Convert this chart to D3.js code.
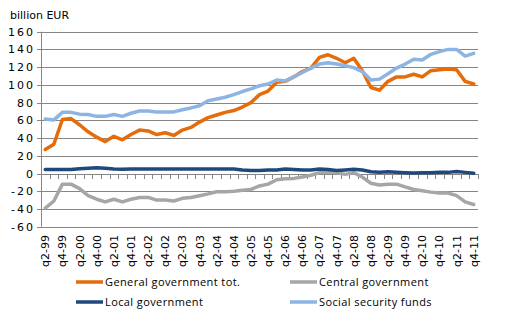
<!DOCTYPE html>
<html>
<head>
<meta charset="utf-8">
<script src="https://cdn.jsdelivr.net/npm/d3@7"></script>
<style>
  body { margin: 0; background: #fff; }
  svg { display: block; }
</style>
</head>
<body>
<svg id="chart" width="512" height="330"></svg>
<script>
// Quarterly categories (x axis)
const quarters = [
    'q2-99','q3-99','q4-99',
    'q1-00','q2-00','q3-00','q4-00',
    'q1-01','q2-01','q3-01','q4-01',
    'q1-02','q2-02','q3-02','q4-02',
    'q1-03','q2-03','q3-03','q4-03',
    'q1-04','q2-04','q3-04','q4-04',
    'q1-05','q2-05','q3-05','q4-05',
    'q1-06','q2-06','q3-06','q4-06',
    'q1-07','q2-07','q3-07','q4-07',
    'q1-08','q2-08','q3-08','q4-08',
    'q1-09','q2-09','q3-09','q4-09',
    'q1-10','q2-10','q3-10','q4-10',
    'q1-11','q2-11','q3-11','q4-11'
];

// Series values, billion EUR
const generalGov = [27,33,61,62,55,47,41,36,42,38,44,49,48,44,46,43,49,52,58,63,66,69,71,75,80,89,93,103,104,109,115,119,131,134,130,125,130,116,97,94,104,109,109,112,109,116,117,118,117,104,101];
const centralGov = [-39,-31,-12,-12,-17,-25,-29,-32,-29,-32,-29,-27,-27,-30,-30,-31,-28,-27,-25,-23,-20.5,-20.5,-20,-19,-18,-14,-12,-7,-6,-5.5,-4,-2,1,1.5,1,-1,1,-4,-11,-13,-12,-12,-15,-18,-19.5,-21,-22,-22,-25,-32,-35];
const localGov = [4.5,4.5,4.5,4.5,5.5,6,6.5,6,5,4.8,5,5,5,5,5,5,5,5,5,5,5,5,5,4,3.5,3.5,4,4,5,4.5,4,4,5,4.5,3.5,4,4.7,4,2,1.5,2,1.5,1,0.5,1,1,1.3,1.3,2.4,1.3,0.3];
const socialFunds = [61.5,60.5,69,69,67,66.5,64.5,64.5,66.5,64.5,68,70.5,70.5,69.5,69.5,69.5,72,74,76.5,82,84,86,89,92.5,95.5,99,101,105.5,104.5,109,114,119,123.5,125,123.5,121.5,119.5,115,105.5,106.5,112.5,119,123.5,129,128,134.5,137.5,140,140,132.5,135.5];

const seriesNames = ['General government tot.', 'Central government', 'Local government', 'Social security funds'];
const yTicks = [-60,-40,-20,0,20,40,60,80,100,120,140,160];

const series = [
    {name: seriesNames[0], values: generalGov, color: '#e46c0a'},
    {name: seriesNames[1], values: centralGov, color: '#a6a6a6'},
    {name: seriesNames[2], values: localGov, color: '#1f497d'},
    {name: seriesNames[3], values: socialFunds, color: '#8db4e2'}
];

const svg = d3.select('#chart');
const plotLeft = 41, plotRight = 478, plotTop = 31.7, plotBottom = 226.7;

const x = d3.scaleBand().domain(quarters).range([plotLeft, plotRight]);
const y = d3.scaleLinear().domain([-60, 160]).range([plotBottom, plotTop]);
const cx = q => x(q) + x.bandwidth() / 2;

// unit label
svg.append('text')
    .attr('x', 10).attr('y', 19)
    .attr('font-family', 'DejaVu Sans').attr('font-size', 11)
    .attr('fill', '#000')
    .text('billion EUR');

// gridlines
svg.append('g').selectAll('line')
    .data(yTicks)
    .join('line')
    .attr('x1', plotLeft - 4).attr('x2', plotRight)
    .attr('y1', d => Math.round(y(d)) + 0.5).attr('y2', d => Math.round(y(d)) + 0.5)
    .attr('stroke', '#868686').attr('stroke-width', 1);

// y axis line
svg.append('line')
    .attr('x1', plotLeft + 0.5).attr('x2', plotLeft + 0.5)
    .attr('y1', y(160)).attr('y2', y(-60))
    .attr('stroke', '#868686');

// y labels
svg.append('g').selectAll('text')
    .data(yTicks)
    .join('text')
    .attr('x', 35).attr('y', d => y(d) + 4)
    .attr('text-anchor', 'end')
    .attr('font-family', 'DejaVu Sans').attr('font-size', 11)
    .attr('letter-spacing', 2)
    .text(d => d);

// category ticks on zero line
const boundaries = quarters.map(q => x(q)).concat([plotRight]);
svg.append('g').selectAll('line')
    .data(boundaries)
    .join('line')
    .attr('x1', d => Math.round(d) + 0.5).attr('x2', d => Math.round(d) + 0.5)
    .attr('y1', Math.round(y(0))).attr('y2', Math.round(y(0)) + 5)
    .attr('stroke', '#868686');

// x labels every second quarter
svg.append('g').selectAll('text')
    .data(quarters.filter((q, i) => i % 2 === 0))
    .join('text')
    .attr('transform', q => `translate(${cx(q) + 4},235) rotate(-90)`)
    .attr('text-anchor', 'end')
    .attr('font-family', 'DejaVu Sans').attr('font-size', 11)
    .text(q => q);

// lines
const line = d3.line()
    .x((d, i) => cx(quarters[i]))
    .y(d => y(d));

svg.append('g').selectAll('path')
    .data(series)
    .join('path')
    .attr('d', d => line(d.values))
    .attr('fill', 'none')
    .attr('stroke', d => d.color)
    .attr('stroke-width', 3.5)
    .attr('stroke-linejoin', 'round')
    .attr('stroke-linecap', 'round');

// legend
const legendPos = [[76, 282], [290, 282], [76, 302], [290, 302]];
const legend = svg.append('g').selectAll('g')
    .data(series)
    .join('g')
    .attr('transform', (d, i) => `translate(${legendPos[i][0]},${legendPos[i][1]})`);

legend.append('line')
    .attr('x1', 0).attr('x2', 27)
    .attr('stroke', d => d.color).attr('stroke-width', 3.5);

legend.append('text')
    .attr('x', 29).attr('y', 4)
    .attr('font-family', 'Open Sans').attr('font-size', 11)
    .attr('letter-spacing', 0.4)
    .text(d => d.name);
</script>
</body>
</html>
